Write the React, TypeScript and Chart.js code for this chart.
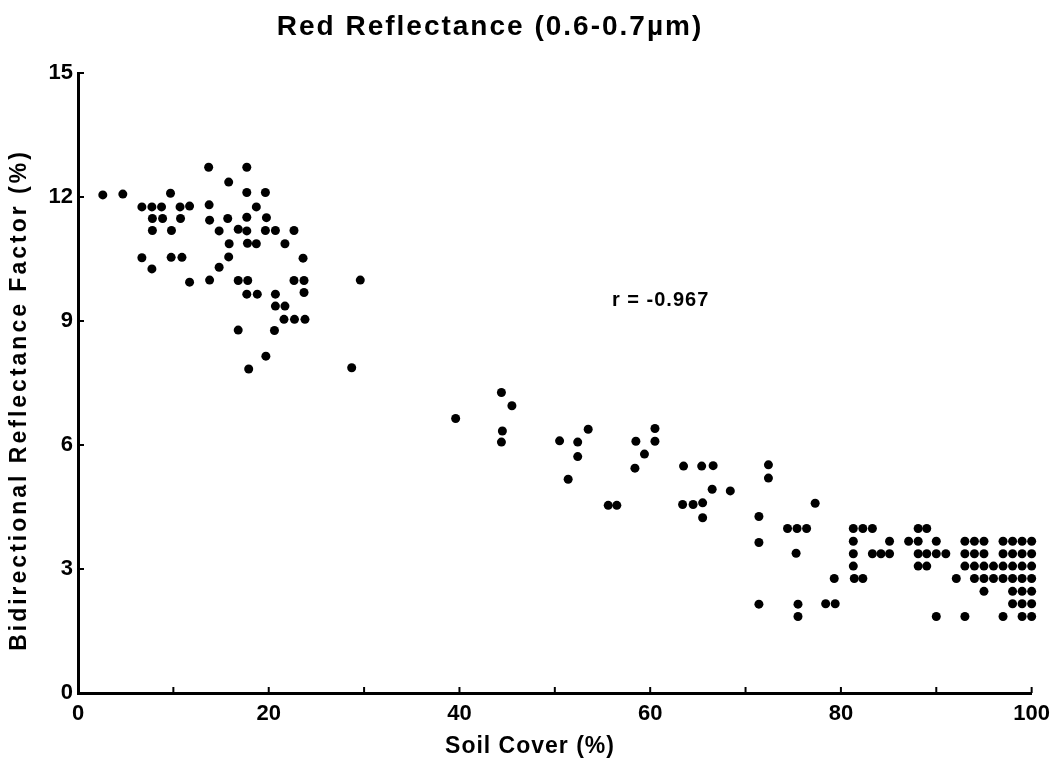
import React, { useEffect, useRef } from "react";
import { Chart, registerables } from "chart.js";

Chart.register(...registerables);

const chartTitle = "Red Reflectance (0.6-0.7µm)";
const xAxisTitle = "Soil Cover (%)";
const yAxisTitle = "Bidirectional Reflectance Factor (%)";
const correlationLabel = "r = -0.967";

const xLabelTicks = [0, 20, 40, 60, 80, 100];
const yLabelTicks = [0, 3, 6, 9, 12, 15];
const xMarkTicks = [10, 20, 30, 40, 50, 60, 70, 80, 90, 100];
const yMarkTicks = [3, 6, 9, 12, 15];

// Low soil cover cluster (0-30 %)
const lowCoverX = [
  2.6, 4.7, 9.7,
  13.7, 17.7, 15.8,
  13.75, 17.7, 19.65,
  6.7, 7.75, 8.76, 10.7, 11.7, 18.7,
  7.8, 8.87, 10.75, 13.8, 15.7, 17.7, 19.76,
  7.8, 9.8, 14.8, 16.8, 17.7, 19.65, 20.7, 22.65,
  15.85, 17.77, 18.7, 21.7,
  6.7, 9.77, 10.9, 15.8, 23.6,
  7.75, 14.8,
  11.7, 13.8, 16.8, 17.8, 22.65, 23.7, 29.6,
  17.7, 18.8, 20.7, 23.7,
  20.7, 21.7,
  21.6, 22.7, 23.8,
  16.8, 20.6,
  19.7,
  17.9, 28.7,
];
const lowCoverY = [
  12.05, 12.07, 12.09,
  12.72, 12.72, 12.36,
  11.81, 12.11, 12.11,
  11.76, 11.76, 11.76, 11.76, 11.78, 11.76,
  11.48, 11.48, 11.48, 11.44, 11.48, 11.51, 11.5,
  11.19, 11.19, 11.18, 11.22, 11.18, 11.19, 11.19, 11.19,
  10.87, 10.88, 10.87, 10.87,
  10.53, 10.54, 10.54, 10.55, 10.52,
  10.26, 10.3,
  9.94, 9.99, 9.98, 9.98, 9.98, 9.98, 9.99,
  9.65, 9.65, 9.65, 9.69,
  9.36, 9.36,
  9.04, 9.04, 9.04,
  8.78, 8.77,
  8.15,
  7.84, 7.87,
];

// Middle soil cover (39-80 %)
const midCoverX = [
  39.6, 44.4, 45.5, 44.5, 44.4,
  50.5, 52.4, 53.5, 52.4, 51.4,
  55.6, 56.5,
  58.5, 60.5, 60.5, 59.4, 58.4,
  63.5, 65.4, 66.6, 66.5, 68.4,
  63.4, 64.5, 65.5, 65.5,
  72.4, 72.4, 77.3, 71.4,
  74.4, 75.4, 76.4, 71.4, 75.3, 79.3,
  71.4, 75.5, 75.5, 78.4, 79.4,
];
const midCoverY = [
  6.64, 7.27, 6.95, 6.34, 6.07,
  6.1, 6.07, 6.38, 5.72, 5.17,
  4.54, 4.54,
  6.09, 6.4, 6.09, 5.78, 5.44,
  5.49, 5.49, 5.5, 4.93, 4.89,
  4.56, 4.56, 4.6, 4.24,
  5.52, 5.2, 4.59, 4.27,
  3.98, 3.98, 3.98, 3.64, 3.38, 2.77,
  2.15, 2.15, 1.85, 2.16, 2.16,
];

// High soil cover (80-100 %)
const highCoverX = [
  81.3, 82.3, 83.3, 88.1, 89.0,
  81.3, 85.1, 87.1, 88.1, 90.0, 93.0, 94.0, 95.0, 97.0, 98.0, 99.0, 100.0,
  81.3, 83.3, 84.2, 85.1, 88.1, 89.0, 90.0, 91.0, 93.0, 94.0, 95.0, 97.0, 98.0, 99.0, 100.0,
  81.3, 88.1, 89.0, 93.0, 94.0, 95.0, 96.0, 97.0, 98.0, 99.0, 100.0,
  81.4, 82.3, 92.1, 94.0, 95.0, 96.0, 97.0, 98.0, 99.0, 100.0,
  95.0, 98.0, 99.0, 100.0,
  98.0, 99.0, 100.0,
  90.0, 93.0, 97.0, 99.0, 100.0,
];
const highCoverY = [
  3.98, 3.98, 3.98, 3.98, 3.98,
  3.67, 3.67, 3.67, 3.67, 3.67, 3.67, 3.67, 3.67, 3.67, 3.67, 3.67, 3.67,
  3.37, 3.37, 3.37, 3.37, 3.37, 3.37, 3.37, 3.37, 3.37, 3.37, 3.37, 3.37, 3.37, 3.37, 3.37,
  3.07, 3.07, 3.07, 3.07, 3.07, 3.07, 3.07, 3.07, 3.07, 3.07, 3.07,
  2.77, 2.77, 2.77, 2.77, 2.77, 2.77, 2.77, 2.77, 2.77, 2.77,
  2.46, 2.46, 2.46, 2.46,
  2.16, 2.16, 2.16,
  1.85, 1.85, 1.85, 1.85, 1.85,
];

const FONT = '"Liberation Sans", Arial, Helvetica, sans-serif';

function zipPoints(xs: number[], ys: number[]) {
  return xs.map((x, i) => ({ x, y: ys[i] }));
}

const decorPlugin = {
  id: "decor",
  afterDraw(chart: any) {
    const { ctx, chartArea, scales } = chart;
    const xs = scales.x;
    const ys = scales.y;
    ctx.save();
    ctx.strokeStyle = "#000";
    ctx.fillStyle = "#000";
    ctx.lineWidth = 2;
    // inward tick marks
    xMarkTicks.forEach((v) => {
      const px = xs.getPixelForValue(v);
      ctx.beginPath();
      ctx.moveTo(px, chartArea.bottom);
      ctx.lineTo(px, chartArea.bottom - 6);
      ctx.stroke();
    });
    yMarkTicks.forEach((v) => {
      const py = ys.getPixelForValue(v);
      ctx.beginPath();
      ctx.moveTo(chartArea.left, py);
      ctx.lineTo(chartArea.left + 6, py);
      ctx.stroke();
    });

    // chart title
    ctx.font = `bold 28px ${FONT}`;
    (ctx as any).letterSpacing = "2px";
    ctx.textAlign = "center";
    ctx.textBaseline = "alphabetic";
    ctx.fillText(chartTitle, 490, 35);

    // x axis title
    ctx.font = `bold 23px ${FONT}`;
    (ctx as any).letterSpacing = "1px";
    ctx.fillText(xAxisTitle, 530, 753);

    // y axis title
    ctx.save();
    ctx.translate(20, 400);
    ctx.rotate(-Math.PI / 2);
    ctx.font = `bold 23px ${FONT}`;
    (ctx as any).letterSpacing = "3px";
    ctx.textBaseline = "middle";
    ctx.fillText(yAxisTitle, 0, 0);
    ctx.restore();

    // correlation annotation
    ctx.font = `bold 20px ${FONT}`;
    (ctx as any).letterSpacing = "1px";
    ctx.textAlign = "left";
    ctx.textBaseline = "alphabetic";
    ctx.fillText(correlationLabel, 612, 306);
    (ctx as any).letterSpacing = "0px";
    ctx.restore();
  },
};

export default function App() {
  const canvasRef = useRef<HTMLCanvasElement | null>(null);

  useEffect(() => {
    const canvas = canvasRef.current;
    if (!canvas) return;
    const points = [
      ...zipPoints(lowCoverX, lowCoverY),
      ...zipPoints(midCoverX, midCoverY),
      ...zipPoints(highCoverX, highCoverY),
    ];
    const tickFont = { family: FONT, size: 22, weight: "bold" as const };
    const chart = new Chart(canvas, {
      type: "scatter",
      data: {
        datasets: [
          {
            data: points,
            pointRadius: 4.5,
            pointHoverRadius: 4.5,
            pointBackgroundColor: "#000",
            pointBorderColor: "#000",
            pointBorderWidth: 0,
            clip: false as any,
          },
        ],
      },
      options: {
        responsive: false,
        maintainAspectRatio: false,
        animation: false,
        layout: { padding: { top: 73, right: 25, left: 0, bottom: 0 } },
        plugins: {
          legend: { display: false },
          tooltip: { enabled: false },
          title: { display: false },
        },
        scales: {
          x: {
            type: "linear",
            min: 0,
            max: 100,
            grid: { display: false, drawTicks: false },
            border: { display: true, color: "#000", width: 3 },
            afterBuildTicks: (scale: any) => {
              scale.ticks = xLabelTicks.map((v) => ({ value: v }));
            },
            ticks: {
              color: "#000",
              font: tickFont,
              padding: 8,
              maxRotation: 0,
              autoSkip: false,
            },
            afterFit: (scale: any) => {
              scale.height = 65;
            },
          },
          y: {
            type: "linear",
            min: 0,
            max: 15,
            grid: { display: false, drawTicks: false },
            border: { display: true, color: "#000", width: 3 },
            afterBuildTicks: (scale: any) => {
              scale.ticks = yLabelTicks.map((v) => ({ value: v }));
            },
            ticks: {
              color: "#000",
              font: tickFont,
              padding: 5,
              autoSkip: false,
            },
            afterFit: (scale: any) => {
              scale.width = 78;
            },
          },
        },
      },
      plugins: [decorPlugin],
    });
    return () => chart.destroy();
  }, []);

  return (
    <div style={{ position: "fixed", left: 0, top: 0, width: 1058, height: 758, background: "#fff" }}>
      <canvas ref={canvasRef} width={1058} height={758} style={{ display: "block" }} />
    </div>
  );
}
